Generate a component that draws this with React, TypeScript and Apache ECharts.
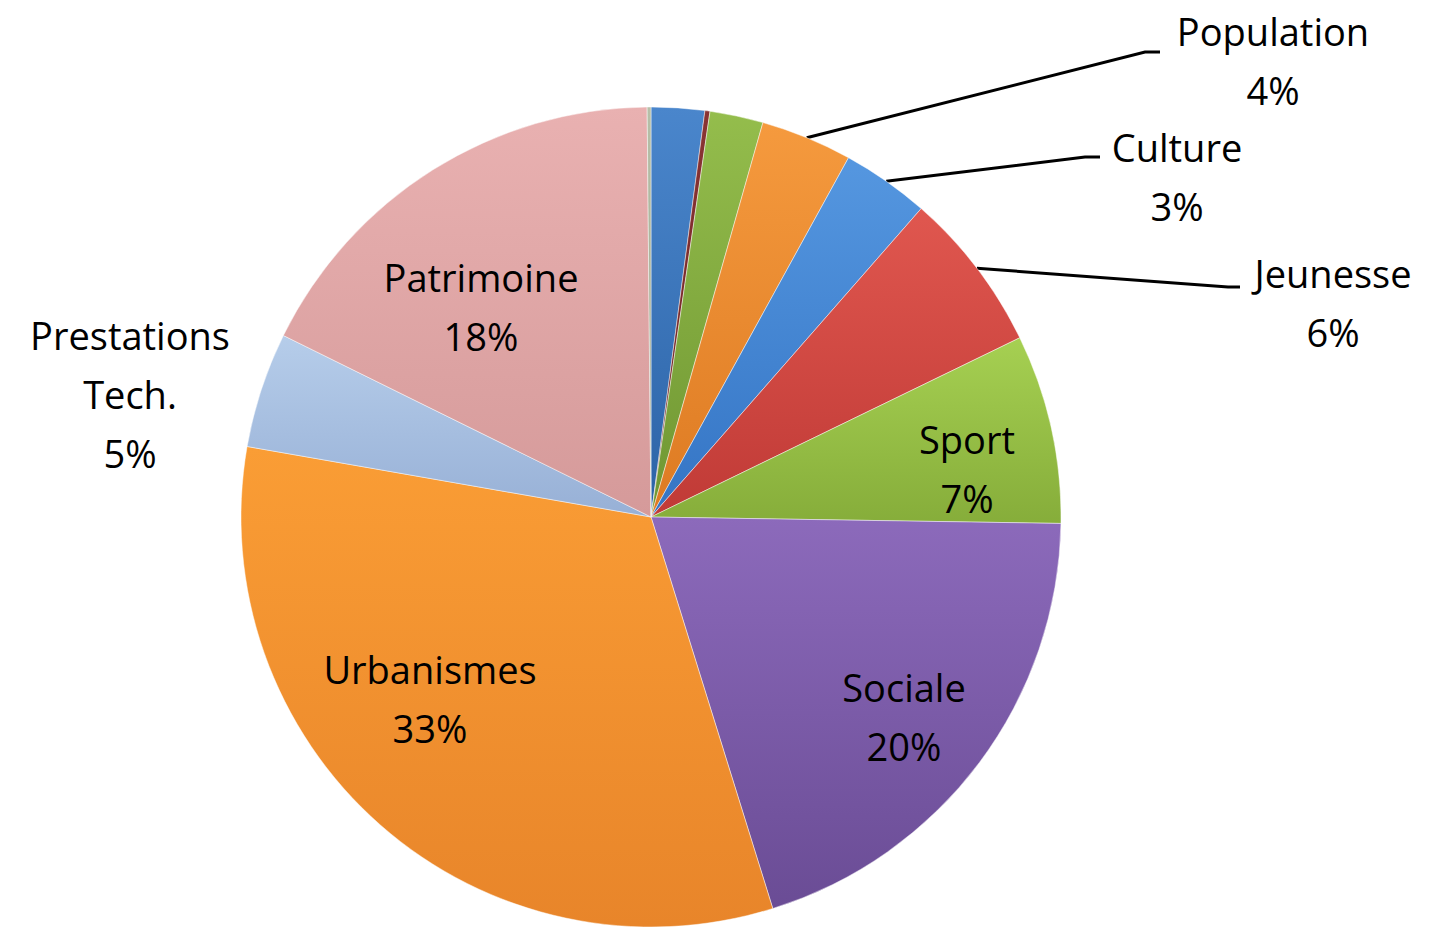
import React, { useEffect, useRef } from "react";
import * as echarts from "echarts";

// Slices clockwise from 12 o'clock
const categories = [
  "Autres A",
  "Autres B",
  "Autres C",
  "Population",
  "Culture",
  "Jeunesse",
  "Sport",
  "Sociale",
  "Urbanismes",
  "Prestations Tech.",
  "Patrimoine",
  "Autres D",
];
const values = [2.1, 0.2, 2.1, 3.6, 3.45, 6.35, 7.45, 19.95, 32.55, 4.55, 17.55, 0.15];
const labelled = [false, false, false, true, true, true, true, true, true, true, true, false];
const withLeader = ["Population", "Culture", "Jeunesse"];

const colors = [
  ["#4a86cc", "#2c63a6"],
  ["#8a3434", "#6a2222"],
  ["#94bd4c", "#6f9632"],
  ["#f59a3e", "#dd7a22"],
  ["#5597e0", "#3474c4"],
  ["#e0574f", "#c03a36"],
  ["#a6d052", "#86ad3a"],
  ["#8c6abb", "#6a4c95"],
  ["#fa9d35", "#e8852a"],
  ["#b6cdea", "#97b0d6"],
  ["#e9b1b1", "#d59a9a"],
  ["#b7bfa8", "#9aa38b"],
];

const CX = 651;
const CY = 517;
const R = 410;

// label block centres (layout, not data)
const labelPos: Record<string, [number, number]> = {
  Population: [1273, 60],
  Culture: [1177, 176],
  Jeunesse: [1333, 302],
  Sport: [967, 468],
  Sociale: [904, 716],
  Urbanismes: [430, 698],
  "Prestations Tech.": [130, 394],
  Patrimoine: [481, 306],
};
const leaderBend: Record<string, [number, number][]> = {
  Population: [[1145, 52], [1160, 52]],
  Culture: [[1085, 157], [1100, 157]],
  Jeunesse: [[1228, 287], [1240, 287]],
};

export default function App() {
  const ref = useRef<HTMLDivElement>(null);
  useEffect(() => {
    if (!ref.current) return;
    const chart = echarts.init(ref.current, undefined, { renderer: "svg" });
    const total = values.reduce((a, b) => a + b, 0);
    const midAngles: number[] = [];
    let acc = 0;
    values.forEach((v) => {
      midAngles.push(((acc + v / 2) / total) * Math.PI * 2);
      acc += v;
    });

    const data = categories.map((name, i) => ({
      name,
      value: values[i],
      itemStyle: {
        color: new echarts.graphic.LinearGradient(0, 0, 0, 1, [
          { offset: 0, color: colors[i][0] },
          { offset: 1, color: colors[i][1] },
        ]),
      },
      label: { show: labelled[i] },
      labelLine: { show: withLeader.includes(name) },
    }));

    chart.setOption({
      animation: false,
      backgroundColor: "#ffffff",
      series: [
        {
          type: "pie",
          center: [CX, CY],
          radius: R,
          startAngle: 90,
          clockwise: true,
          avoidLabelOverlap: false,
          data,
          itemStyle: { borderColor: "rgba(255,255,255,0.45)", borderWidth: 1 },
          label: {
            position: "outside",
            color: "#000",
            fontFamily: "'Open Sans', Lato, sans-serif",
            fontSize: 38,
            lineHeight: 59,
            align: "center",
            formatter: (p: any) =>
              `${p.name.replace(" ", "\n")}\n${Math.round(p.percent)}%`,
          },
          labelLine: {
            lineStyle: { color: "#000", width: 3 },
          },
          labelLayout: (p: any) => {
            const name = categories[p.dataIndex];
            const pos = labelPos[name];
            if (!pos) return {};
            const out: any = {
              x: pos[0],
              y: pos[1],
              align: "center",
              verticalAlign: "middle",
            };
            const bend = leaderBend[name];
            if (bend) {
              const a = midAngles[p.dataIndex];
              const start: [number, number] = [CX + R * Math.sin(a), CY - R * Math.cos(a)];
              out.labelLinePoints = [start, bend[0], bend[1]];
            }
            return out;
          },
        },
      ],
    });
    return () => chart.dispose();
  }, []);
  return (
    <div
      ref={ref}
      style={{ position: "fixed", left: 0, top: 0, width: 1432, height: 928 }}
    />
  );
}
